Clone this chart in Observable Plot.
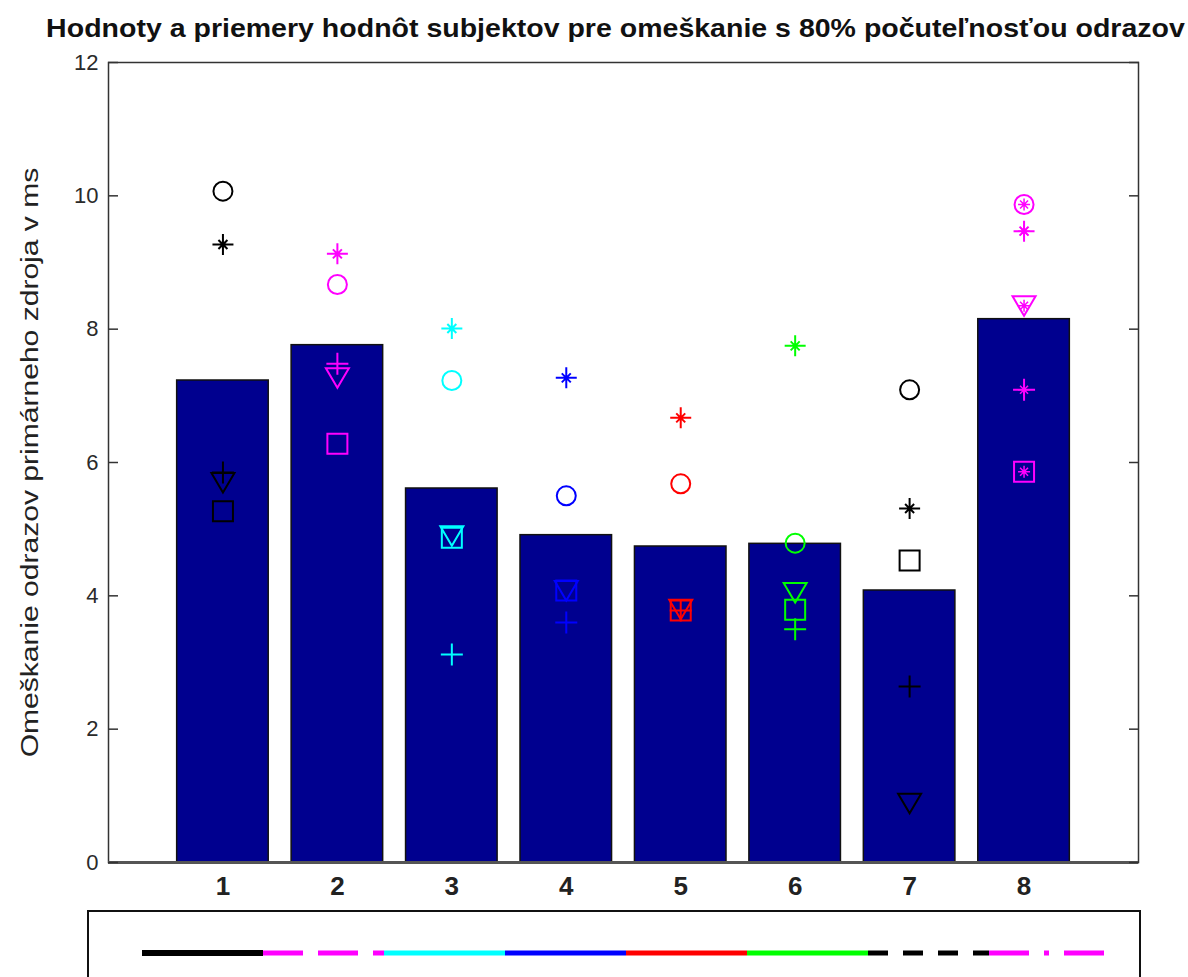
<!DOCTYPE html>
<html><head><meta charset="utf-8">
<script src="https://cdn.jsdelivr.net/npm/d3@7"></script>
<script src="https://cdn.jsdelivr.net/npm/@observablehq/plot@0.6"></script>
<style>
body{margin:0;background:#fff;font-family:"Liberation Sans",Arial,sans-serif;overflow:hidden}
svg{display:block}
</style>
</head><body><div id="chart"></div><script>
const titleText = "Hodnoty a priemery hodnôt subjektov pre omeškanie s 80% počuteľnosťou odrazov";
const yLabel = "Omeškanie odrazov primárneho zdroja v ms";
const categories = [1, 2, 3, 4, 5, 6, 7, 8];
const tickLabels = ["1", "2", "3", "4", "5", "6", "7", "8"];
const yTicks = [0, 2, 4, 6, 8, 10, 12];
const barMeans = [7.23, 7.76, 5.61, 4.91, 4.74, 4.78, 4.08, 8.15];
const circleVals = [10.07, 8.67, 7.23, 5.50, 5.68, 4.79, 7.09, 9.87];
const starVals   = [9.27, 9.13, 8.01, 7.27, 6.67, 7.75, 5.31, 9.47];
const plusVals   = [5.85, 7.48, 3.12, 3.60, 3.78, 3.50, 2.64, 7.09];
const triVals    = [5.70, 7.27, 4.90, 4.08, 3.80, 4.05, 0.89, 8.35];
const squareVals = [5.27, 6.28, 4.87, 4.08, 3.78, 3.79, 4.53, 5.86];
const seriesColors = ["#000000", "#ff00ff", "#00ffff", "#0000ff", "#ff0000", "#00ff00", "#000000", "#ff00ff"];
const legendDash = [null, "40,15", null, null, null, null, "20,15", "40,15,5,15"];

// marker shapes (MATLAB-like)
const mk = {
  circle: {draw(c){ c.moveTo(9.5,0); c.arc(0,0,9.5,0,2*Math.PI); }},
  square: {draw(c){ c.rect(-10,-10,20,20); }},
  triDown: {draw(c){ c.moveTo(-11.5,-9.5); c.lineTo(11.5,-9.5); c.lineTo(0,10); c.closePath(); }},
  plus: {draw(c){ c.moveTo(-11,0); c.lineTo(11,0); c.moveTo(0,-11); c.lineTo(0,11); }},
  star: {draw(c){ c.moveTo(-10.5,0); c.lineTo(10.5,0); c.moveTo(0,-10.5); c.lineTo(0,10.5);
                  c.moveTo(-4.5,-4.5); c.lineTo(4.5,4.5); c.moveTo(-4.5,4.5); c.lineTo(4.5,-4.5); }},
  smallStar: {draw(c){ c.moveTo(-6,0); c.lineTo(6,0); c.moveTo(0,-6); c.lineTo(0,6);
                  c.moveTo(-4,-4); c.lineTo(4,4); c.moveTo(-4,4); c.lineTo(4,-4); }}
};

const bars = categories.map((c, i) => ({cat: c, mean: barMeans[i]}));
const pts = (vals, marker) => categories.map((c, i) => ({cat: c, value: vals[i], marker, color: seriesColors[i]}));
const points = [
  ...pts(circleVals, "circle"), ...pts(starVals, "star"), ...pts(plusVals, "plus"),
  ...pts(triVals, "triDown"), ...pts(squareVals, "square")
];

const dotMark = (name) => Plot.dot(points.filter(d => d.marker === name), {
  x: "cat", y: "value", symbol: mk[name], stroke: "color", fill: "none", strokeWidth: 2
});

const chart = Plot.plot({
  width: 1188, height: 907,
  marginLeft: 108, marginRight: 50, marginTop: 62, marginBottom: 45,
  style: {fontFamily: "'Liberation Sans', Arial, sans-serif", background: "#fff"},
  color: {type: "identity"},
  x: {domain: [0, 9], axis: null},
  y: {domain: [0, 12], axis: null},
  marks: [
    Plot.rectY(bars, {x1: d => d.cat - 0.4, x2: d => d.cat + 0.4, y1: 0, y2: "mean",
      fill: "#00008f", stroke: "#111", strokeWidth: 1.5}),
    dotMark("circle"), dotMark("star"), dotMark("plus"), dotMark("triDown"), dotMark("square"),
    Plot.dot(points.filter(d => d.cat === 8), {x: "cat", y: "value", symbol: mk.smallStar,
      stroke: "color", fill: "none", strokeWidth: 1.5}),
    Plot.frame({stroke: "#333", strokeWidth: 1.5}),
    Plot.ruleY([0], {stroke: "#555", strokeWidth: 3}),
    Plot.axisY({anchor: "left", ticks: yTicks, tickSize: -10, tickPadding: 20, fontSize: 22,
      color: "#2a2a2a", stroke: "#333", strokeWidth: 1.5, label: null}),
    Plot.axisY({anchor: "right", ticks: yTicks, tickSize: -10, tickFormat: () => "",
      stroke: "#333", strokeWidth: 1.5, label: null}),
    Plot.axisX({anchor: "bottom", ticks: categories, tickSize: 0, tickPadding: 14,
      tickFormat: (d) => tickLabels[categories.indexOf(d)], fontSize: 26, fontWeight: "bold",
      fontFamily: "'Liberation Sans Narrow', 'Liberation Sans', Arial, sans-serif",
      color: "#222", label: null}),
    Plot.text([titleText], {frameAnchor: "top", dx: -8, dy: -44, text: d => d, fontSize: 26,
      fontWeight: "bold", fill: "#111", textAnchor: "middle"}),
    Plot.text([yLabel], {frameAnchor: "left", dx: -78, rotate: -90, text: d => d, fontSize: 24,
      fill: "#222", textAnchor: "middle"})
  ]
});

document.getElementById("chart").appendChild(chart);

// stretch title and y label along their baselines to the reference's extents
function stretch(content, target) {
  const nodes = d3.select(chart).selectAll("text").filter(function () { return this.textContent === content; }).nodes();
  nodes.forEach(t => {
    const b = t.getBBox();
    if (!b.width) return;
    const s = target / b.width;
    const cx = b.x + b.width / 2;
    const tr = t.getAttribute("transform") || "";
    t.setAttribute("transform", `${tr} translate(${cx},0) scale(${s},1) translate(${-cx},0)`);
  });
}
stretch(titleText, 1140);
stretch(yLabel, 590);

// legend (line samples only; the labels are below the visible area)
const legend = d3.create("svg").attr("width", 1188).attr("height", 70);
legend.append("rect").attr("x", 88).attr("y", 4).attr("width", 1052).attr("height", 120)
  .attr("fill", "#fff").attr("stroke", "#111").attr("stroke-width", 2);
const segW = 121, seg0 = 142, ly = 46;
seriesColors.forEach((col, i) => {
  legend.append("line")
    .attr("x1", seg0 + i * segW).attr("x2", seg0 + (i + 1) * segW)
    .attr("y1", ly).attr("y2", ly)
    .attr("stroke", col).attr("stroke-width", i === 0 ? 6 : 5)
    .attr("stroke-dasharray", legendDash[i]);
});
document.getElementById("chart").appendChild(legend.node());
</script></body></html>
